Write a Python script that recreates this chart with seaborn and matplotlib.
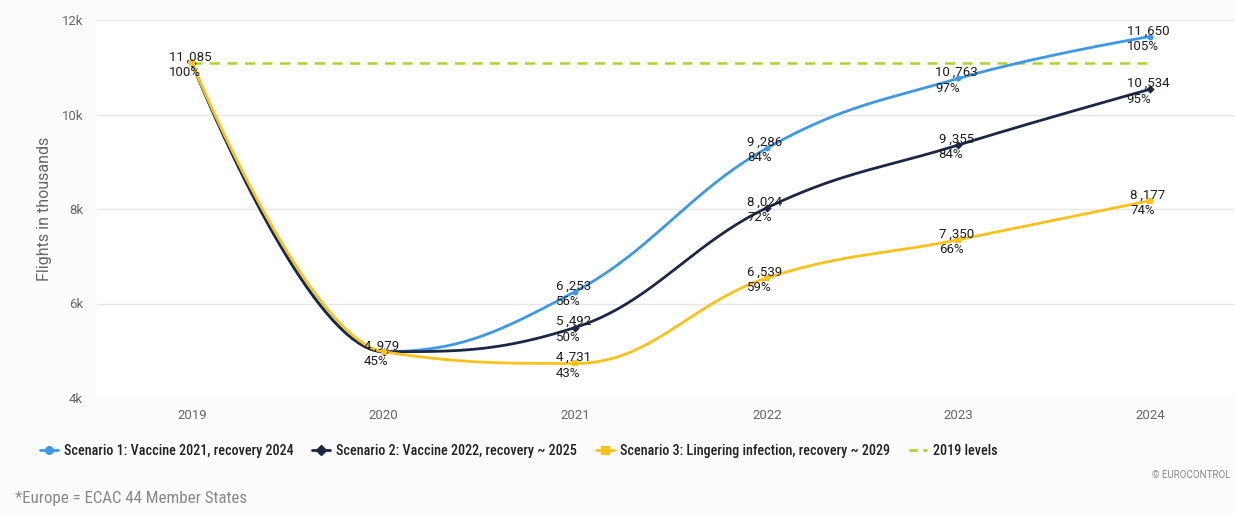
import numpy as np
import pandas as pd
import matplotlib
matplotlib.use("Agg")
from matplotlib import pyplot as plt
from matplotlib import font_manager
from matplotlib.lines import Line2D
import seaborn as sns

years = ["2019", "2020", "2021", "2022", "2023", "2024"]
scenario1 = [11085, 4979, 6253, 9286, 10763, 11650]
scenario2 = [11085, 4979, 5492, 8024, 9355, 10534]
scenario3 = [11085, 4979, 4731, 6539, 7350, 8177]
pct1 = ["100%", "45%", "56%", "84%", "97%", "105%"]
pct2 = ["100%", "45%", "50%", "72%", "84%", "95%"]
pct3 = ["100%", "45%", "43%", "59%", "66%", "74%"]
level_2019 = 11085

names = ["Scenario 1: Vaccine 2021, recovery 2024",
         "Scenario 2: Vaccine 2022, recovery ~ 2025",
         "Scenario 3: Lingering infection, recovery ~ 2029"]
colors = ["#3d98e6", "#1a2745", "#fbc21b"]
markers = ["o", "D", "s"]


def spline(xs, ys, n=40):
    # highcharts-style spline: bezier segments with smoothed control points
    xs = np.asarray(xs, float)
    ys = np.asarray(ys, float)
    sm, den = 1.5, 2.5
    m = len(xs)
    lc = [None] * m
    rc = [None] * m
    for i in range(m):
        if i == 0 or i == m - 1:
            lc[i] = rc[i] = (xs[i], ys[i])
            continue
        lx = (sm * xs[i] + xs[i - 1]) / den
        ly = (sm * ys[i] + ys[i - 1]) / den
        rx = (sm * xs[i] + xs[i + 1]) / den
        ry = (sm * ys[i] + ys[i + 1]) / den
        corr = ((ry - ly) * (rx - xs[i])) / (rx - lx) + ys[i] - ry
        ly += corr
        ry += corr
        if ly > max(ys[i - 1], ys[i]):
            ly = max(ys[i - 1], ys[i])
            ry = 2 * ys[i] - ly
        elif ly < min(ys[i - 1], ys[i]):
            ly = min(ys[i - 1], ys[i])
            ry = 2 * ys[i] - ly
        if ry > max(ys[i + 1], ys[i]):
            ry = max(ys[i + 1], ys[i])
            ly = 2 * ys[i] - ry
        elif ry < min(ys[i + 1], ys[i]):
            ry = min(ys[i + 1], ys[i])
            ly = 2 * ys[i] - ry
        lc[i] = (lx, ly)
        rc[i] = (rx, ry)
    t = np.linspace(0, 1, n)
    px, py = [], []
    for i in range(m - 1):
        p0 = (xs[i], ys[i]); p1 = rc[i]; p2 = lc[i + 1]; p3 = (xs[i + 1], ys[i + 1])
        a = (1 - t) ** 3; b = 3 * (1 - t) ** 2 * t; c = 3 * (1 - t) * t ** 2; d = t ** 3
        px.extend(a * p0[0] + b * p1[0] + c * p2[0] + d * p3[0])
        py.extend(a * p0[1] + b * p1[1] + c * p2[1] + d * p3[1])
    return np.array(px), np.array(py)


# look for a narrow face for the legend / footer
installed = {f.name for f in font_manager.fontManager.ttflist}
narrow = None
for cand in ["Roboto Condensed", "Liberation Sans Narrow", "Open Sans Condensed",
             "Noto Sans Display", "DejaVu Sans Condensed"]:
    if cand in installed:
        narrow = cand
        break
if narrow:
    leg_prop = {"family": [narrow, "DejaVu Sans"], "size": 10.2, "weight": "medium"}
    foot_prop = {"family": [narrow, "DejaVu Sans"], "size": 12.2}
else:
    leg_prop = {"family": ["Roboto", "DejaVu Sans"], "size": 8.2, "weight": "medium"}
    foot_prop = {"family": ["Roboto", "DejaVu Sans"], "size": 10.5}

sns.set_theme(style="white")
plt.rcParams["font.family"] = ["Roboto", "DejaVu Sans"]

fig = plt.figure(figsize=(12.35, 5.16), dpi=100)
fig.patch.set_facecolor("#fcfcfc")
ax = fig.add_axes([97 / 1235, 118 / 516, 1 - 97 / 1235, 378 / 516])
ax.set_facecolor("#ffffff")

xpos = np.arange(len(years))
ax.plot([xpos[0], xpos[-1]], [level_2019, level_2019], color="#a9d52c",
        lw=1.8, ls=(0, (4, 3)), zorder=2)

series = [scenario1, scenario2, scenario3]
pcts = [pct1, pct2, pct3]
for vals, col, mk in zip(series, colors, markers):
    sx, sy = spline(xpos, vals)
    df = pd.DataFrame({"x": sx, "y": sy})
    sns.lineplot(data=df, x="x", y="y", sort=False, color=col, lw=2, ax=ax, zorder=3)
    ax.scatter(xpos, vals, marker=mk, s=18, color=col, zorder=4, linewidths=0)

for k, (vals, pc) in enumerate(zip(series, pcts)):
    for i, (v, p) in enumerate(zip(vals, pc)):
        if i < 2 and k != 2:
            continue
        txt = f"{v:,}".replace(",", "\u2009,") + "\n" + p
        ax.annotate(txt, (xpos[i], v), xytext=(-2, -2), textcoords="offset pixels",
                    ha="center", va="center", multialignment="left",
                    fontsize=9.5, color="#1e1e1e", linespacing=1.25, zorder=6,
                    family=["Roboto", "DejaVu Sans"])

ax.set_xlim(-0.496, 5.444)
ax.set_ylim(4000, 12000)
ax.set_xticks(xpos)
ax.set_xticklabels(years)
ax.set_yticks([4000, 6000, 8000, 10000, 12000])
ax.set_yticklabels(["4k", "6k", "8k", "10k", "12k"])
ax.tick_params(axis="both", length=0, labelsize=9.5, labelcolor="#666666")
ax.tick_params(axis="x", pad=8)
ax.tick_params(axis="y", pad=10)
ax.grid(axis="y", color="#e6e6e6", lw=1)
ax.set_xlabel("")
ax.set_ylabel("Flights in thousands", fontsize=11.5, color="#666666", labelpad=7)
for s in ax.spines.values():
    s.set_visible(False)

handles = [Line2D([0], [0], color=c, lw=2, marker=m, markersize=5.5) for c, m in zip(colors, markers)]
handles.append(Line2D([0], [0], color="#a9d52c", lw=2, ls=(0, (3, 2))))
fig.legend(handles, names + ["2019 levels"], loc="center left", ncol=4,
           bbox_to_anchor=(40 / 1235, 65 / 516), frameon=False, handlelength=1.27,
           columnspacing=1.35, handletextpad=0.4, borderpad=0, borderaxespad=0,
           prop=leg_prop, labelcolor="#222222")

fig.text(15 / 1235, 18 / 516, "*Europe = ECAC 44 Member States", color="#888888",
         va="center", fontproperties=font_manager.FontProperties(**foot_prop))
fig.text(1152 / 1235, 41 / 516, "© EUROCONTROL", fontsize=7, color="#888888", va="center")

fig.savefig("out.png", dpi=100, facecolor=fig.get_facecolor())
